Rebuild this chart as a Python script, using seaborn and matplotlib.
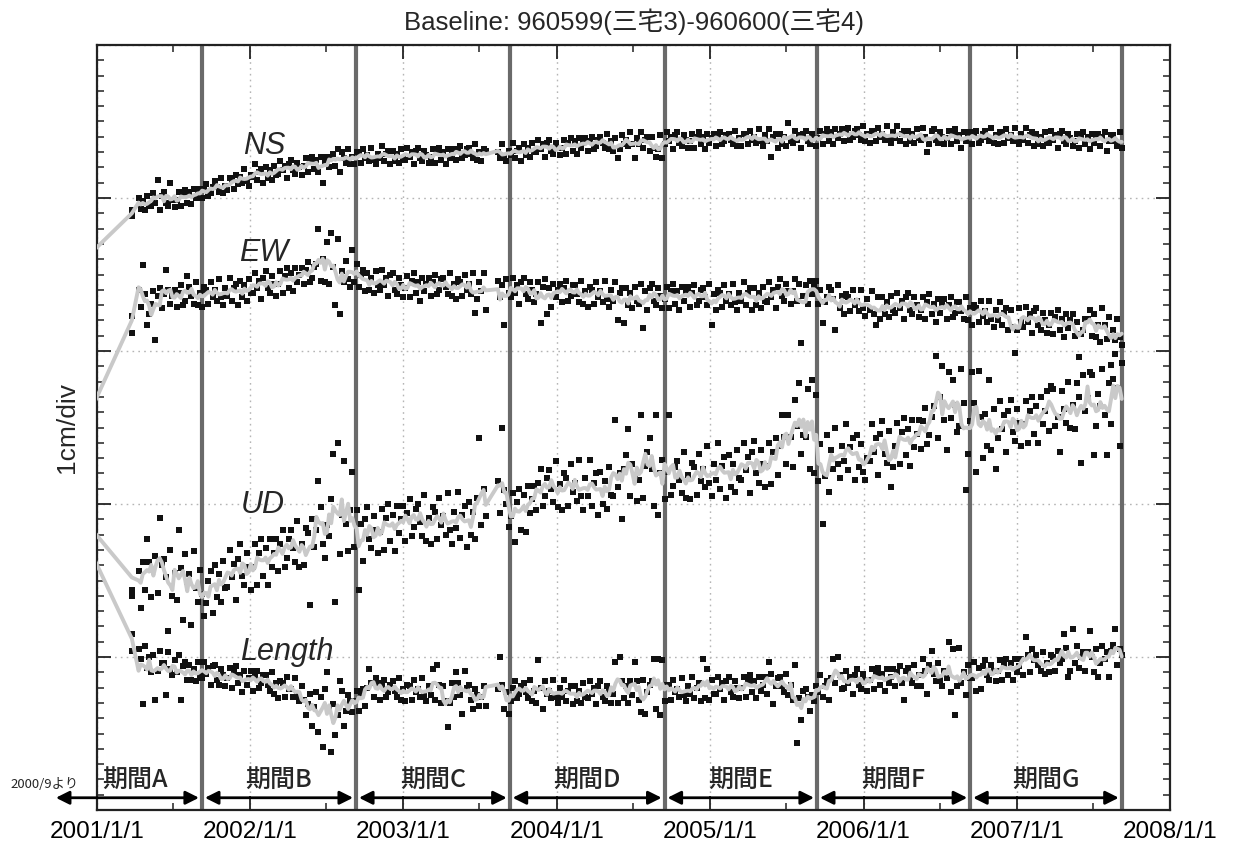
import numpy as np
import pandas as pd
import matplotlib
matplotlib.use("Agg")
import matplotlib.pyplot as plt
import matplotlib.dates as mdates
from matplotlib.ticker import MultipleLocator, FuncFormatter, NullFormatter
import seaborn as sns

# ---------------------------------------------------------------------------
# Daily-solution baseline components (plotted offsets, units of 0.01 cm).
# seg1: 2001-04-10 .. 2003-07-16, seg2: 2003-08-14 .. 2007-09-08
# ---------------------------------------------------------------------------
SEG1 = ("2001-04-10", "2003-07-16")
SEG2 = ("2003-08-14", "2007-09-08")
EARLY_DATE = "2001-03-25"
GRAY_ANCHOR_DATES = ["2000-09-15", "2001-03-25"]

ns_early = [392, 388]
ns_gray_anchor = [339, 390]
ns_seg1 = [
    400, 393, 398, 392, 401, 395,
    395, 403, 397, 412, 392, 401,
    404, 397, 395, 410, 399, 394,
    399, 404, 395, 402, 405, 397,
    404, 396, 406, 400, 403, 406,
    400, 406, 409, 401, 403, 407,
    411, 407, 404, 413, 403, 408,
    405, 413, 412, 406, 415, 409,
    414, 410, 419, 411, 408, 415,
    414, 422, 412, 417, 419, 410,
    420, 413, 418, 412, 421, 415,
    416, 424, 418, 421, 413, 422,
    425, 418, 416, 423, 420, 415,
    421, 426, 417, 424, 427, 419,
    425, 417, 427, 410, 424, 427,
    420, 426, 429, 421, 432, 417,
    430, 426, 423, 432, 422, 427,
    422, 430, 429, 423, 432, 426,
    428, 424, 433, 425, 422, 429,
    426, 434, 424, 429, 431, 422,
    431, 424, 429, 423, 432, 426,
    425, 433, 427, 430, 422, 431,
    433, 426, 424, 431, 428, 423,
    427, 432, 423, 430, 433, 425,
    430, 422, 432, 426, 429, 432,
    425, 431, 434, 426, 428, 432,
    433, 429, 426, 435, 425, 430,
    424, 432, 431,
]
ns_seg2 = [
    430, 426, 435, 427, 424, 431,
    428, 436, 426, 431, 433, 424,
    435, 428, 433, 427, 436, 430,
    430, 438, 432, 435, 427, 436,
    438, 431, 429, 436, 433, 428,
    433, 438, 429, 436, 439, 431,
    437, 429, 439, 433, 436, 439,
    431, 437, 440, 432, 434, 438,
    440, 436, 433, 442, 432, 437,
    431, 439, 426, 432, 441, 435,
    438, 434, 443, 435, 426, 439,
    435, 443, 433, 438, 440, 431,
    440, 433, 427, 432, 441, 426,
    435, 443, 437, 440, 432, 441,
    443, 436, 434, 441, 438, 433,
    437, 442, 433, 440, 443, 435,
    440, 432, 442, 436, 439, 442,
    434, 440, 443, 435, 437, 441,
    442, 438, 435, 444, 434, 439,
    434, 442, 441, 435, 444, 438,
    440, 436, 445, 437, 434, 441,
    437, 445, 427, 440, 442, 433,
    442, 435, 440, 434, 449, 437,
    436, 444, 438, 441, 433, 442,
    444, 437, 435, 442, 439, 434,
    439, 444, 435, 442, 445, 437,
    443, 435, 445, 439, 442, 445,
    437, 443, 446, 438, 440, 444,
    445, 441, 438, 447, 437, 442,
    436, 444, 443, 437, 446, 440,
    442, 438, 447, 439, 436, 443,
    439, 447, 437, 442, 444, 435,
    444, 437, 442, 436, 445, 439,
    438, 446, 440, 430, 435, 444,
    445, 438, 436, 443, 440, 435,
    439, 444, 435, 442, 445, 437,
    441, 433, 443, 437, 440, 443,
    435, 441, 444, 436, 438, 442,
    444, 440, 437, 446, 436, 441,
    435, 443, 442, 436, 445, 439,
    441, 437, 446, 438, 435, 442,
    438, 446, 436, 441, 443, 434,
    442, 435, 440, 434, 443, 437,
    436, 444, 438, 441, 433, 442,
    444, 437, 435, 442, 439, 434,
    437, 442, 433, 440, 443, 435,
    440, 432, 442, 436, 439, 442,
    434, 440, 443, 431, 437, 441,
    441, 437, 434, 443, 433,
]

ew_early = [323, 312]
ew_gray_anchor = [205, 320]
ew_seg1 = [
    340, 329, 356, 337, 317, 324,
    331, 339, 307, 336, 341, 328,
    337, 353, 340, 331, 336, 340,
    329, 338, 343, 330, 333, 349,
    342, 336, 331, 345, 330, 338,
    329, 342, 340, 331, 345, 335,
    340, 333, 347, 335, 330, 341,
    336, 348, 333, 341, 344, 330,
    346, 335, 343, 333, 347, 338,
    338, 351, 341, 346, 334, 348,
    352, 341, 338, 349, 344, 336,
    344, 352, 338, 349, 354, 341,
    351, 339, 354, 345, 350, 354,
    344, 353, 358, 345, 348, 355,
    357, 380, 346, 360, 345, 371,
    344, 377, 355, 330, 373, 324,
    352, 345, 359, 347, 342, 366,
    345, 357, 342, 350, 353, 339,
    351, 340, 348, 338, 352, 343,
    340, 353, 343, 348, 336, 350,
    351, 340, 337, 348, 343, 335,
    341, 349, 335, 346, 351, 338,
    345, 333, 348, 339, 344, 348,
    336, 345, 350, 337, 340, 347,
    348, 342, 337, 351, 336, 344,
    334, 347, 345, 336, 350, 340,
    344, 337, 351, 325, 334, 345,
    339, 351, 327,
]
ew_seg2 = [
    346, 335, 343, 317, 347, 338,
    335, 348, 338, 343, 331, 345,
    348, 337, 334, 345, 340, 332,
    337, 345, 318, 342, 347, 324,
    341, 329, 344, 335, 340, 344,
    332, 341, 346, 333, 336, 343,
    343, 337, 332, 346, 331, 339,
    329, 342, 340, 331, 345, 335,
    339, 332, 346, 334, 329, 340,
    333, 345, 320, 338, 341, 318,
    341, 330, 338, 328, 342, 333,
    331, 344, 315, 339, 327, 341,
    344, 333, 330, 341, 336, 328,
    334, 342, 328, 339, 344, 331,
    339, 327, 342, 333, 338, 342,
    329, 338, 343, 330, 333, 340,
    341, 335, 330, 344, 317, 337,
    327, 340, 338, 329, 343, 333,
    337, 330, 344, 332, 327, 338,
    333, 345, 330, 338, 341, 327,
    341, 330, 338, 328, 342, 333,
    332, 345, 335, 340, 328, 342,
    347, 336, 333, 344, 339, 331,
    339, 347, 333, 344, 305, 336,
    343, 331, 346, 337, 342, 346,
    331, 340, 318, 332, 335, 342,
    340, 334, 314, 343, 328, 336,
    324, 337, 335, 326, 340, 330,
    333, 326, 340, 328, 323, 334,
    327, 339, 324, 317, 335, 321,
    335, 324, 332, 322, 336, 327,
    325, 338, 328, 333, 321, 335,
    338, 327, 324, 335, 330, 322,
    327, 335, 321, 332, 337, 324,
    331, 319, 334, 325, 330, 334,
    321, 330, 335, 322, 325, 332,
    332, 326, 321, 335, 320, 328,
    317, 330, 328, 319, 333, 323,
    326, 319, 333, 321, 316, 327,
    320, 332, 317, 325, 328, 314,
    327, 316, 299, 314, 328, 319,
    316, 329, 319, 324, 312, 326,
    328, 317, 314, 325, 320, 312,
    317, 325, 311, 322, 327, 314,
    321, 309, 324, 315, 320, 324,
    310, 319, 296, 311, 314, 321,
    321, 327, 310, 324, 309, 317,
    306, 328, 317, 308, 322, 291,
    314, 307, 321, 309, 304,
]

ud_early = [144, 140]
ud_gray_anchor = [215, 152]
ud_seg1 = [
    156, 132, 162, 144, 177, 162,
    139, 157, 166, 142, 191, 160,
    164, 152, 117, 170, 140, 155,
    137, 183, 158, 124, 167, 149,
    154, 121, 169, 145, 136, 157,
    141, 127, 135, 150, 156, 129,
    160, 139, 154, 136, 163, 145,
    146, 170, 152, 161, 137, 164,
    174, 153, 147, 168, 159, 144,
    159, 174, 147, 168, 177, 153,
    171, 147, 177, 159, 168, 177,
    156, 174, 183, 159, 165, 177,
    183, 171, 162, 189, 159, 174,
    160, 184, 181, 134, 190, 172,
    183, 215, 198, 174, 165, 186,
    179, 203, 233, 136, 240, 167,
    193, 228, 187, 169, 196, 221,
    172, 196, 144, 187, 163, 190,
    198, 177, 171, 192, 183, 168,
    182, 197, 170, 191, 200, 176,
    193, 169, 199, 181, 190, 199,
    176, 194, 203, 179, 185, 197,
    200, 188, 179, 206, 176, 191,
    174, 198, 195, 177, 204, 186,
    192, 180, 207, 183, 174, 195,
    184, 208, 178, 193, 199, 172,
    201, 180, 195, 177, 204, 243,
    186, 210, 192,
]
ud_seg2 = [
    215, 194, 250, 209, 200, 185,
    192, 207, 175, 201, 210, 183,
    206, 182, 212, 194, 203, 212,
    196, 214, 223, 199, 205, 217,
    222, 210, 201, 228, 198, 213,
    196, 220, 217, 199, 226, 208,
    214, 202, 229, 205, 196, 217,
    205, 229, 199, 214, 220, 193,
    221, 200, 215, 197, 224, 206,
    205, 255, 211, 220, 190, 223,
    232, 249, 205, 226, 217, 202,
    216, 258, 204, 225, 234, 243,
    223, 199, 258, 193, 220, 229,
    203, 221, 258, 206, 212, 224,
    228, 216, 207, 234, 204, 219,
    203, 227, 224, 206, 233, 215,
    223, 211, 238, 214, 205, 226,
    216, 240, 210, 225, 231, 204,
    232, 211, 226, 208, 235, 217,
    216, 240, 222, 231, 207, 234,
    241, 220, 214, 235, 226, 211,
    225, 240, 213, 234, 243, 219,
    238, 258, 244, 226, 258, 244,
    224, 268, 251, 279, 233, 245,
    244, 275, 223, 281, 220, 271,
    215, 239, 187, 218, 245, 208,
    235, 223, 250, 226, 217, 238,
    228, 252, 222, 237, 243, 216,
    245, 224, 239, 221, 216, 230,
    228, 252, 234, 243, 219, 246,
    254, 233, 227, 248, 211, 224,
    238, 253, 226, 247, 256, 232,
    249, 225, 255, 237, 246, 255,
    236, 254, 263, 239, 245, 257,
    264, 297, 243, 270, 290, 255,
    235, 286, 256, 281, 265, 247,
    251, 288, 266, 209, 233, 254,
    286, 266, 221, 287, 257, 230,
    259, 238, 281, 235, 262, 223,
    243, 267, 249, 258, 234, 261,
    268, 247, 241, 262, 253, 238,
    252, 267, 240, 261, 270, 246,
    264, 240, 270, 252, 261, 274,
    248, 277, 275, 251, 257, 234,
    274, 262, 253, 280, 250, 265,
    249, 279, 270, 227, 284, 261,
    269, 286, 284, 232, 251, 272,
    264, 288, 258, 232, 279, 252,
    282, 298, 276, 238, 292,
]

len_early = [115, 104]
len_gray_anchor = [223, 112]
len_seg1 = [
    105, 99, 69, 107, 93, 100,
    90, 101, 72, 91, 104, 96,
    96, 75, 103, 92, 88, 98,
    90, 101, 72, 94, 97, 85,
    95, 85, 92, 84, 97, 88,
    86, 97, 89, 93, 82, 94,
    95, 85, 82, 92, 88, 81,
    86, 93, 80, 90, 94, 83,
    88, 77, 91, 82, 86, 91,
    78, 87, 91, 80, 83, 88,
    88, 82, 78, 90, 76, 83,
    73, 84, 83, 74, 87, 79,
    79, 74, 86, 75, 71, 81,
    72, 62, 69, 76, 55, 67,
    77, 51, 74, 41, 79, 90,
    66, 38, 69, 49, 62, 84,
    78, 55, 65, 75, 71, 64,
    71, 78, 65, 75, 79, 68,
    80, 92, 83, 74, 86, 83,
    72, 81, 85, 74, 77, 82,
    84, 78, 74, 86, 72, 79,
    71, 82, 81, 72, 85, 77,
    79, 74, 86, 75, 71, 81,
    75, 92, 72, 95, 82, 70,
    81, 71, 54, 70, 83, 74,
    90, 83, 75, 63, 91, 80,
    82, 72, 66, 79, 75, 68,
    74, 81, 68,
]
len_seg2 = [
    79, 100, 82, 66, 77, 63,
    71, 80, 84, 73, 76, 81,
    83, 77, 73, 85, 71, 78,
    70, 98, 80, 66, 84, 76,
    78, 73, 85, 74, 70, 80,
    74, 85, 71, 78, 81, 69,
    81, 71, 78, 70, 83, 74,
    73, 84, 76, 80, 69, 81,
    84, 74, 71, 81, 77, 70,
    76, 97, 70, 100, 84, 73,
    81, 70, 84, 75, 97, 84,
    72, 64, 85, 63, 77, 82,
    84, 99, 66, 99, 62, 98,
    71, 82, 81, 72, 85, 77,
    79, 74, 86, 75, 71, 81,
    76, 87, 73, 80, 83, 71,
    99, 73, 92, 72, 85, 76,
    76, 87, 79, 83, 72, 84,
    87, 77, 74, 84, 80, 73,
    80, 87, 74, 84, 88, 77,
    84, 73, 87, 78, 82, 87,
    76, 97, 89, 69, 81, 86,
    87, 81, 77, 89, 75, 82,
    72, 95, 44, 73, 59, 78,
    79, 74, 65, 75, 71, 81,
    77, 88, 74, 81, 84, 72,
    86, 99, 83, 100, 88, 79,
    80, 91, 83, 87, 76, 88,
    92, 82, 79, 89, 85, 78,
    85, 92, 79, 89, 93, 82,
    89, 78, 92, 83, 87, 92,
    81, 90, 94, 83, 72, 91,
    93, 87, 83, 95, 81, 88,
    81, 99, 91, 76, 95, 104,
    89, 84, 96, 85, 81, 91,
    86, 110, 77, 105, 62, 81,
    106, 83, 90, 75, 95, 86,
    86, 97, 78, 93, 79, 94,
    98, 88, 85, 95, 91, 84,
    91, 98, 85, 95, 99, 88,
    96, 85, 99, 90, 94, 99,
    88, 113, 101, 90, 105, 98,
    101, 95, 91, 103, 89, 96,
    90, 101, 100, 91, 104, 96,
    99, 115, 106, 87, 91, 118,
    96, 107, 93, 100, 103, 91,
    103, 117, 100, 90, 105, 87,
    96, 107, 99, 103, 87, 104,
    108, 118, 95, 105, 101,
]

SERIES = [
    ("NS", ns_early, ns_gray_anchor, ns_seg1, ns_seg2),
    ("EW", ew_early, ew_gray_anchor, ew_seg1, ew_seg2),
    ("UD", ud_early, ud_gray_anchor, ud_seg1, ud_seg2),
    ("Length", len_early, len_gray_anchor, len_seg1, len_seg2),
]

# Label positions (text, date, cm)
series_labels = [("NS", "2001-12-15", 4.29), ("EW", "2001-12-05", 3.59),
                 ("UD", "2001-12-10", 1.94), ("Length", "2001-12-08", 0.98)]

# Analysis periods
period_names = ["期間A", "期間B", "期間C", "期間D", "期間E", "期間F", "期間G"]
period_bounds = ["2001-09-08", "2002-09-10", "2003-09-11", "2004-09-14",
                 "2005-09-12", "2006-09-12", "2007-09-08"]
period_start = "2000-09-25"
period_a_label_date = "2001-04-02"

title_text = "Baseline: 960599(三宅3)-960600(三宅4)"
ylabel_text = "1cm/div"

# ---------------------------------------------------------------------------
obs_frames, gray_frames = [], []
for name, early, anchor, s1, s2 in SERIES:
    d1 = pd.date_range(SEG1[0], SEG1[1], periods=len(s1))
    d2 = pd.date_range(SEG2[0], SEG2[1], periods=len(s2))
    main = pd.Series(np.r_[s1, s2] / 100.0, index=d1.append(d2))
    early_s = pd.Series(np.asarray(early) / 100.0,
                        index=pd.DatetimeIndex([EARLY_DATE] * len(early)))
    obs = pd.concat([early_s, main])
    obs_frames.append(pd.DataFrame({"date": obs.index, "cm": obs.values, "comp": name}))
    smooth = main.rolling(5, center=True, min_periods=1).mean()
    anc = pd.Series(np.asarray(anchor) / 100.0, index=pd.DatetimeIndex(GRAY_ANCHOR_DATES))
    gray = pd.concat([anc, smooth])
    gray_frames.append(pd.DataFrame({"date": gray.index, "cm": gray.values, "comp": name}))

obs_df = pd.concat(obs_frames, ignore_index=True)
gray_df = pd.concat(gray_frames, ignore_index=True)

sns.set_theme(style="white")
plt.rcParams["font.family"] = ["Liberation Sans", "Noto Sans CJK JP", "DejaVu Sans"]

fig = plt.figure(figsize=(12.35, 8.43), dpi=100)
ax = fig.add_axes([97 / 1235, 1 - 810 / 843, (1170 - 97) / 1235, 765 / 843])

sns.scatterplot(data=obs_df, x="date", y="cm", marker="s", color="#111111",
                s=16, linewidth=0, ax=ax, zorder=3, legend=False)
for name in [s[0] for s in SERIES]:
    sub = gray_df[gray_df["comp"] == name]
    sns.lineplot(data=sub, x="date", y="cm", estimator=None, sort=True,
                 color="#c9c9c9", lw=2.8, ax=ax, zorder=4, legend=False)

x0, x1 = pd.Timestamp("2001-01-01"), pd.Timestamp("2008-01-01")
ax.set_xlim(x0, x1)
ax.set_ylim(0, 5)

# Grid, ticks
ax.xaxis.set_major_locator(mdates.YearLocator())
ax.xaxis.set_minor_locator(mdates.MonthLocator(bymonth=7))
ax.xaxis.set_major_formatter(FuncFormatter(
    lambda v, p: "{0.year}/{0.month}/{0.day}".format(mdates.num2date(v))))
ax.yaxis.set_major_locator(MultipleLocator(1))
ax.yaxis.set_minor_locator(MultipleLocator(0.1))
ax.yaxis.set_major_formatter(NullFormatter())
ax.grid(True, which="major", ls=(0, (1.2, 3)), color="#b5b5b5", lw=1.0, zorder=0)
ax.tick_params(which="major", direction="in", length=10, width=1.3,
               top=True, right=True, left=True, bottom=True, colors="#222222",
               labelsize=17.5, labelcolor="black", pad=8)
ax.tick_params(which="minor", direction="in", length=5, width=1.1,
               top=True, right=True, left=True, bottom=True, colors="#222222")
for sp in ax.spines.values():
    sp.set_linewidth(1.6)
    sp.set_color("#222222")

ax.set_xlabel("")
ax.set_ylabel(ylabel_text, fontsize=19, labelpad=5)
ax.set_title(title_text, fontsize=18.5, pad=11)

# Period boundaries, arrows and names
for b in period_bounds:
    ax.axvline(pd.Timestamp(b), color="#6a6a6a", lw=3.0, zorder=2)

gap = pd.Timedelta(days=7)
starts = [pd.Timestamp(period_start)] + [pd.Timestamp(b) + gap for b in period_bounds[:-1]]
ends = [pd.Timestamp(b) - gap for b in period_bounds]
arrow_y, label_y = 0.08, 0.19
for i, (s, e) in enumerate(zip(starts, ends)):
    ax.annotate("", xy=(mdates.date2num(e), arrow_y), xytext=(mdates.date2num(s), arrow_y),
                arrowprops=dict(arrowstyle="<|-|>", color="black", lw=2.0,
                                mutation_scale=20, shrinkA=0, shrinkB=0),
                annotation_clip=False, zorder=6)
    if i == 0:
        cx = pd.Timestamp(period_a_label_date)
    else:
        cx = pd.Timestamp(period_bounds[i - 1]) + (pd.Timestamp(period_bounds[i]) - pd.Timestamp(period_bounds[i - 1])) / 2
    ax.text(cx, label_y, period_names[i], ha="center", va="center", fontsize=18,
            family=["Noto Sans CJK JP"], fontweight="medium", zorder=6)

fig.text(45 / 1235, 1 - 784 / 843, "2000/9より", ha="center", va="center",
         fontsize=9.5, family=["Noto Sans CJK JP"])

for text, d, y in series_labels:
    ax.text(pd.Timestamp(d), y, text, ha="left", va="baseline", fontsize=22,
            style="italic", zorder=6)

fig.savefig("out.png", dpi=100)
